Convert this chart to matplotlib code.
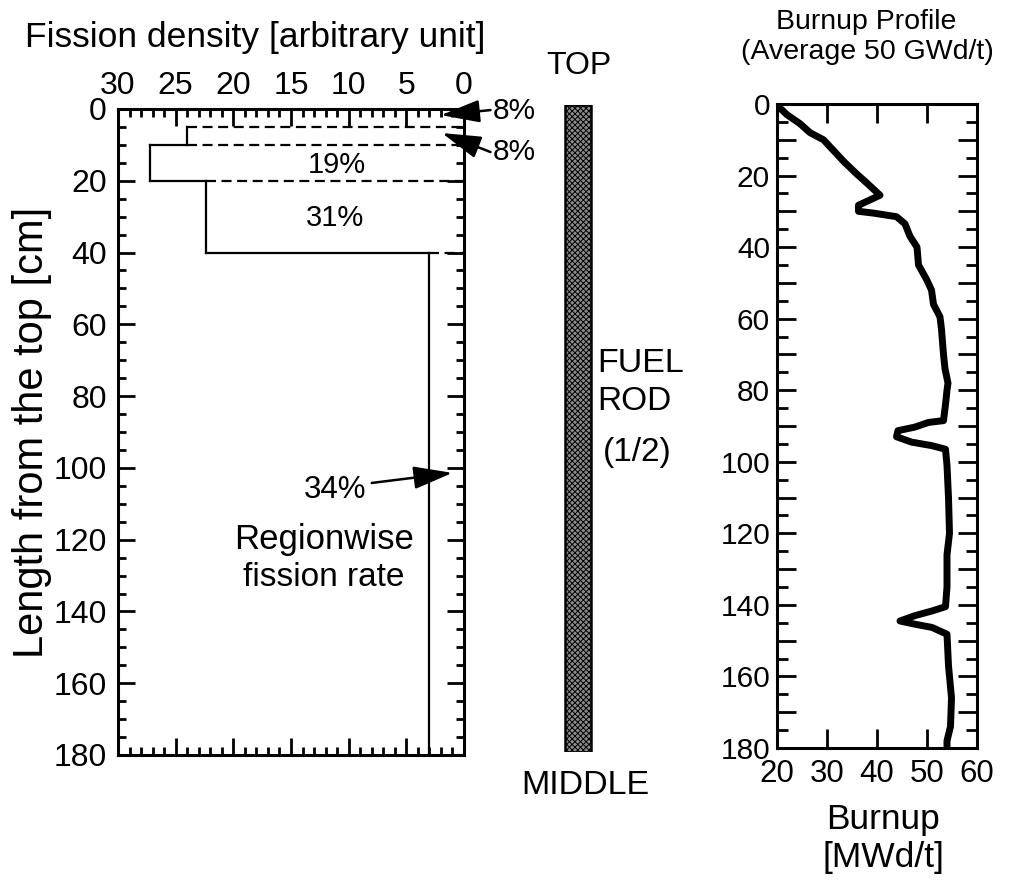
import matplotlib
matplotlib.use("Agg")
import matplotlib.pyplot as plt
import numpy as np

plt.rcParams['font.family'] = ['Liberation Sans', 'DejaVu Sans']
plt.rcParams['hatch.linewidth'] = 0.7

W, H = 1012, 881

# ---------------- data ----------------
# Fission density regions (left panel)
region_edges = [0, 5, 10, 20, 40, 180]          # cm from the top
region_density = [24.0, 24.0, 27.2, 22.4, 3.0]   # arbitrary unit
region_labels = ["8%", "8%", "19%", "31%", "34%"]

fission_ticks = [30, 25, 20, 15, 10, 5, 0]
length_ticks = [0, 20, 40, 60, 80, 100, 120, 140, 160, 180]

# Burnup profile (right panel)
burnup_depth = [0, 1, 3, 5.5, 8, 10, 13, 16, 19.5, 22, 25.5, 27, 28.3, 30, 30.5,
                31.5, 33.5, 37, 40, 45, 49, 52, 56, 59.5, 63, 70, 74, 78, 80, 84,
                88.5, 89, 90.3, 91.3, 93, 94.5, 95.5, 96.5, 101, 110, 120, 126,
                135, 140.5, 141.7, 143, 144.5, 145.4, 146.3, 148.2, 157, 166,
                174, 178, 180]
burnup_value = [20.2, 20.5, 22.0, 24.6, 26.6, 29.3, 31.3, 33.3, 35.9, 37.9, 40.6,
                38.3, 36.3, 36.3, 39.3, 43.9, 45.6, 46.6, 48.0, 48.3, 49.9, 50.9,
                51.3, 52.6, 52.9, 53.3, 53.6, 54.2, 54.0, 53.7, 53.3, 50.3, 47.6,
                44.2, 43.9, 46.9, 51.0, 53.7, 54.0, 54.3, 54.5, 54.0, 54.0, 53.7,
                51.0, 47.6, 44.6, 47.6, 51.0, 54.0, 54.3, 54.9, 54.7, 54.0, 54.0]
burnup_ticks = [20, 30, 40, 50, 60]


def fx(x):
    return x / W


def fy(y):
    return 1 - y / H


def rect(x0, y0, x1, y1):
    return [fx(x0), fy(y1), (x1 - x0) / W, (y1 - y0) / H]


fig = plt.figure(figsize=(W / 100, H / 100), dpi=100)

FRAME_LW = 2.2
TICK_W = 2.0

# ---------------- left panel ----------------
axL = fig.add_axes(rect(118, 109, 464, 755))
axL.set_xlim(30, 0)
axL.set_ylim(180, 0)
for s in axL.spines.values():
    s.set_linewidth(FRAME_LW)

axL.set_xticks(fission_ticks)
axL.set_xticks(np.arange(0, 31, 1), minor=True)
axL.set_yticks(length_ticks)
axL.set_yticks(np.arange(0, 181, 5), minor=True)
axL.tick_params(axis='x', which='both', direction='in', top=True, bottom=True,
                labeltop=True, labelbottom=False, width=TICK_W)
axL.tick_params(axis='y', which='both', direction='in', left=True, right=True,
                width=TICK_W)
axL.tick_params(which='major', length=12)
axL.tick_params(which='minor', length=6)
axL.tick_params(axis='x', labelsize=23, pad=6)
axL.tick_params(axis='y', labelsize=23, pad=8)

# step profile
lw_p = 1.6
for i in range(1, len(region_density)):
    v = region_density[i]
    axL.plot([v, v], [region_edges[i], region_edges[i + 1]], color='k', lw=lw_p,
             solid_capstyle='projecting')
for i in range(1, len(region_edges) - 1):
    up, lo = region_density[i - 1], region_density[i]
    d = region_edges[i]
    if up != lo:
        axL.plot([up, lo], [d, d], color='k', lw=lw_p, solid_capstyle='projecting')
    m = min(up, lo)
    axL.plot([m, 0], [d, d], color='k', lw=lw_p, linestyle=(0, (4.5, 2.5)))

# region labels
fig.text(fx(337), fy(165), region_labels[2], fontsize=21, ha='center', va='center')
fig.text(fx(335), fy(218), region_labels[3], fontsize=21, ha='center', va='center')
fig.text(fx(335), fy(490), region_labels[4], fontsize=22.5, ha='center', va='center')
fig.text(fx(514), fy(111), region_labels[0], fontsize=21.5, ha='center', va='center')
fig.text(fx(514), fy(152), region_labels[1], fontsize=21.5, ha='center', va='center')
fig.text(fx(324), fy(540), "Regionwise", fontsize=25, ha='center', va='center')
fig.text(fx(324), fy(578), "fission rate", fontsize=24, ha='center', va='center')

arrow_kw = dict(arrowstyle='-|>,head_length=1.2,head_width=0.35', lw=1.8,
                color='k', mutation_scale=20, shrinkA=0, shrinkB=0)
axL.annotate('', xy=(2.0, 1.7), xytext=(-2.3, 0.3), arrowprops=arrow_kw,
             annotation_clip=False)
axL.annotate('', xy=(1.9, 6.7), xytext=(-2.3, 12.0), arrowprops=arrow_kw,
             annotation_clip=False)
axL.annotate('', xy=(1.0, 101.4), xytext=(8.0, 104.2), arrowprops=arrow_kw,
             annotation_clip=False)

fig.text(fx(25), fy(37), "Fission density [arbitrary unit]", fontsize=25.5,
         ha='left', va='center')
fig.text(fx(32), fy(432), "Length from the top [cm]", fontsize=30,
         rotation=90, ha='center', va='center')

# ---------------- fuel rod ----------------
axM = fig.add_axes(rect(520, 105, 640, 752))
axM.set_xlim(0, 1)
axM.set_ylim(180, 0)
axM.axis('off')
axM.bar([0.483], [region_edges[-1] - region_edges[0]], bottom=region_edges[0],
        width=0.217, facecolor='#8c8c8c', edgecolor='k', hatch='xxxxxx',
        linewidth=1.8)

fig.text(fx(579), fy(66), "TOP", fontsize=23, ha='center', va='center')
fig.text(fx(585), fy(785), "MIDDLE", fontsize=24.5, ha='center', va='center')
fig.text(fx(597), fy(363), "FUEL", fontsize=24.5, ha='left', va='center')
fig.text(fx(597), fy(401), "ROD", fontsize=24, ha='left', va='center')
fig.text(fx(603), fy(453), "(1/2)", fontsize=24, ha='left', va='center')

# ---------------- right panel ----------------
axR = fig.add_axes(rect(777, 104, 977, 748))
axR.set_xlim(20, 60)
axR.set_ylim(180, 0)
for s in axR.spines.values():
    s.set_linewidth(FRAME_LW)
axR.plot(burnup_value, burnup_depth, color='k', lw=5, solid_joinstyle='round')
axR.set_xticks(burnup_ticks)
axR.set_yticks(np.arange(0, 181, 10))
axR.set_yticklabels([str(v) if v in length_ticks else '' for v in range(0, 181, 10)])
axR.set_yticks(np.arange(0, 181, 5), minor=True)
axR.tick_params(axis='x', which='both', direction='in', top=True, bottom=True,
                width=TICK_W, length=14, labelsize=22.5, pad=8)
axR.tick_params(axis='y', which='both', direction='in', left=True, right=True,
                width=TICK_W, labelsize=21.5, pad=5)
axR.tick_params(axis='y', which='major', length=14)
axR.tick_params(axis='y', which='minor', length=8)

fig.text(fx(866), fy(22), "Burnup Profile", fontsize=20.5, ha='center', va='center')
fig.text(fx(867), fy(52), "(Average 50 GWd/t)", fontsize=20.5, ha='center', va='center')
fig.text(fx(883), fy(820), "Burnup", fontsize=25.5, ha='center', va='center')
fig.text(fx(883), fy(857), "[MWd/t]", fontsize=25.5, ha='center', va='center')

fig.savefig("out.png", dpi=100)
